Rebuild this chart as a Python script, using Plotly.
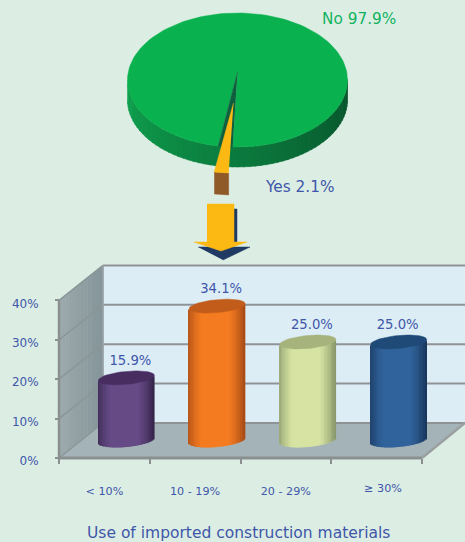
import math
import plotly.graph_objects as go

# ---- data ----
CATEGORIES = ["< 10%", "10 - 19%", "20 - 29%", "≥ 30%"]
BAR_VALUES = [15.9, 34.1, 25.0, 25.0]
PIE_LABELS = ["No", "Yes"]
PIE_VALUES = [97.9, 2.1]
Y_TICKS = [0, 10, 20, 30, 40]
X_TICKS = [0, 1, 2, 3, 4]
AXIS_TITLE = "Use of imported construction materials"

# ---- styles ----
BAR_CENTER = ["#654a86", "#f57b20", "#d6e3a2", "#30639b"]
BAR_EDGE = ["#3a2850", "#ae4f18", "#8f9f70", "#1b3b63"]
BAR_CAP = ["#472d60", "#c25c1b", "#a6b37d", "#1f4a77"]
LABEL_SHIFT_PX = [0, 0, 0, -5]
BLUE = "#3f56a9"
BG = "#dceee4"
FONT = "DejaVu Sans"
W, H = 465, 542
PX_X, PX_Y = 90.75, 3.94   # pixels per axis unit
X0, Y0 = 59, 458           # pixel of the axis origin


def X(px):
    return (px - X0) / PX_X


def Y(py):
    return (Y0 - py) / PX_Y


DEPTH_X, DEPTH_Y = X(103), Y(423)   # chart box depth in axis units


def mix(c1, c2, t):
    a = [int(c1[i:i + 2], 16) for i in (1, 3, 5)]
    b = [int(c2[i:i + 2], 16) for i in (1, 3, 5)]
    return "rgb(%d,%d,%d)" % tuple(round(p + (q - p) * t) for p, q in zip(a, b))


shapes = []


def quad(points, color):
    path = "M" + "L".join(f"{x},{y}" for x, y in points) + "Z"
    shapes.append(dict(type="path", path=path, xref="x", yref="y", layer="below",
                       fillcolor=color, line=dict(width=0)))


def seg(x0, y0, x1, y1, color="#8b8f90", width=2):
    shapes.append(dict(type="line", x0=x0, y0=y0, x1=x1, y1=y1, xref="x", yref="y",
                       layer="below", line=dict(color=color, width=width)))


TOP = Y_TICKS[-1]
RIGHT = X(W)
FRONT_RIGHT = X_TICKS[-1]

# back wall
quad([(DEPTH_X, DEPTH_Y), (DEPTH_X, TOP + DEPTH_Y), (RIGHT, TOP + DEPTH_Y), (RIGHT, DEPTH_Y)], "#dcedf6")
# floor
quad([(0, 0), (DEPTH_X, DEPTH_Y), (RIGHT, DEPTH_Y), (RIGHT, DEPTH_Y), (FRONT_RIGHT, 0)], "#a4b3b7")
# left wall, in strips
N_WALL = 14
for i in range(N_WALL):
    a, b = i / N_WALL, (i + 1.15) / N_WALL
    quad([(a * DEPTH_X, a * DEPTH_Y), (a * DEPTH_X, TOP + a * DEPTH_Y),
          (b * DEPTH_X, TOP + b * DEPTH_Y), (b * DEPTH_X, b * DEPTH_Y)],
         mix("#9ba9ab", "#86959a", i / (N_WALL - 1)))
# grid
for t in Y_TICKS:
    seg(0, t, DEPTH_X, t + DEPTH_Y, "#8a9698", 1.5)
    seg(DEPTH_X, t + DEPTH_Y, RIGHT, t + DEPTH_Y, "#8f9395", 2)
seg(DEPTH_X, DEPTH_Y, DEPTH_X, TOP + DEPTH_Y, "#9aa5a8", 1.5)
seg(0, 0, 0, TOP, "#8b8f90", 2.5)
seg(0, 0, FRONT_RIGHT, 0, "#8b8f90", 3)
seg(FRONT_RIGHT, 0, RIGHT, DEPTH_Y, "#9a9fa0", 2.5)

fig = go.Figure()


def poly(xs, ys, color):
    fig.add_trace(go.Scatter(x=[X(v) for v in xs], y=[Y(v) for v in ys], mode="lines",
                             fill="toself", fillcolor=color, line=dict(width=0.5, color=color),
                             hoverinfo="skip", showlegend=False))


# ---- cylinders ----
HALF = 28 / PX_X
E_V = 6.5 / PX_Y
TILT = 2.5 / PX_Y
N_STRIP = 40
for i, v in enumerate(BAR_VALUES):
    cx = i + 0.5 + DEPTH_X / 2
    base = DEPTH_Y / 2
    sx, sb, sh, sc = [], [], [], []
    for k in range(N_STRIP):
        u = -1 + (2 * k + 1) / N_STRIP
        curve = math.sqrt(1 - u * u)
        bottom = base - E_V * curve + TILT * u
        top = base + v - E_V * 0.6 * curve + TILT * u
        sx.append(cx + HALF * u)
        sb.append(bottom)
        sh.append(top - bottom)
        sc.append(mix(BAR_EDGE[i], BAR_CENTER[i], min(1, (1 - abs(u + 0.05) ** 2.2) * 1.25)))
    fig.add_trace(go.Bar(x=sx, y=sh, base=sb, width=2.6 * HALF / N_STRIP,
                         marker=dict(color=sc, line=dict(width=0)),
                         hoverinfo="skip", showlegend=False))
    ex, ey = [], []
    for k in range(61):
        t = 2 * math.pi * k / 60
        ex.append(cx + HALF * math.cos(t))
        ey.append(base + v + E_V * math.sin(t) + TILT * math.cos(t))
    fig.add_trace(go.Scatter(x=ex, y=ey, mode="lines", fill="toself", fillcolor=BAR_CAP[i],
                             line=dict(width=0.5, color=BAR_CAP[i]), hoverinfo="skip",
                             showlegend=False))

# value labels
fig.add_trace(go.Scatter(
    x=[i + 0.5 + DEPTH_X / 2 + (4 + LABEL_SHIFT_PX[i]) / PX_X for i in range(len(BAR_VALUES))],
    y=[v + DEPTH_Y / 2 + 4.2 for v in BAR_VALUES],
    text=[f"{v:.1f}%" for v in BAR_VALUES], mode="text",
    textfont=dict(family=FONT, size=13.2, color=BLUE), textposition="middle center",
    hoverinfo="skip", showlegend=False, cliponaxis=False))

# category labels
fig.add_trace(go.Scatter(
    x=[i + 0.5 + (0.07 if i == 3 else 0) for i in range(len(CATEGORIES))],
    y=[Y(489) if i == 3 else Y(492) for i in range(len(CATEGORIES))],
    text=CATEGORIES, mode="text",
    textfont=dict(family=FONT, size=11.2, color=BLUE), textposition="middle center",
    hoverinfo="skip", showlegend=False))

# ---- pie (tilted, drawn from its values) ----
CX, CY, RX, RY, PIE_DEPTH = 237.5, 80, 110, 67, 20
PHI0 = -0.11
half_gap = math.pi * PIE_VALUES[1] / 100


def rim(phi, dx=0, dy=0):
    return CX + RX * math.sin(phi) + dx, CY + RY * math.cos(phi) + dy


# side wall of the large slice
N_SIDE = 60
for k in range(N_SIDE):
    p0 = -math.pi / 2 + math.pi * k / N_SIDE
    p1 = -math.pi / 2 + math.pi * (k + 1.2) / N_SIDE
    a, b = rim(p0), rim(p1)
    poly([a[0], b[0], b[0], a[0]], [a[1], b[1], b[1] + PIE_DEPTH, a[1] + PIE_DEPTH],
         mix("#0fa24f", "#07522b", k / (N_SIDE - 1)))

# top face of the large slice
steps = 160
sweep = 2 * math.pi - 2 * half_gap
pts = [rim(PHI0 + half_gap + sweep * k / steps) for k in range(steps + 1)]
poly([CX] + [p[0] for p in pts], [CY - 8] + [p[1] for p in pts], "#0ab14f")
# dark gap
g0, g1 = rim(PHI0 - half_gap), rim(PHI0 + half_gap)
poly([CX, g0[0], g1[0]], [CY - 8, g0[1], g1[1]], "#0d5f3e")

# exploded small slice
OX, OY = -4, 26
w_pts = [rim(PHI0 - half_gap + 2 * half_gap * k / 8, OX, OY) for k in range(9)]
poly([w_pts[0][0], w_pts[-1][0], w_pts[-1][0], w_pts[0][0]],
     [w_pts[0][1], w_pts[-1][1], w_pts[-1][1] + 22, w_pts[0][1] + 22], "#8f5a28")
poly([CX + OX] + [p[0] for p in w_pts], [CY + OY - 3] + [p[1] for p in w_pts], "#fdb913")

# pointer arrow
poly([234, 237, 237, 234], [209, 209, 243, 243], "#1f3a63")
poly([198, 250, 223], [247, 247, 260], "#1f3a63")
poly([207, 234, 234, 247, 221, 194, 207], [204, 204, 242, 242, 251, 242, 242], "#fdb913")

annotations = [
    dict(x=X(359), y=Y(19), xref="x", yref="y", showarrow=False,
         text=f"{PIE_LABELS[0]} {PIE_VALUES[0]}%",
         font=dict(family=FONT, size=15.3, color="#12b35f")),
    dict(x=X(299), y=Y(187), xref="x", yref="y", showarrow=False,
         text=f"{PIE_LABELS[1]} {PIE_VALUES[1]}%",
         font=dict(family=FONT, size=15.3, color=BLUE)),
    dict(x=X(238.5), y=Y(533), xref="x", yref="y", showarrow=False, text=AXIS_TITLE,
         font=dict(family=FONT, size=15.5, color=BLUE)),
]

fig.update_layout(
    width=W, height=H, margin=dict(l=0, r=0, t=0, b=0),
    paper_bgcolor=BG, plot_bgcolor=BG, barmode="overlay", showlegend=False,
    shapes=shapes, annotations=annotations,
    xaxis=dict(range=[X(0), X(W)], domain=[0, 1], anchor="free", position=(H - Y0) / H,
               tickmode="array", tickvals=X_TICKS, showticklabels=False, ticks="outside",
               ticklen=5, tickwidth=2, tickcolor="#8b8f90", showgrid=False, zeroline=False,
               showline=False),
    yaxis=dict(range=[Y(H), Y(0)], domain=[0, 1], anchor="free", position=X0 / W,
               tickmode="array", tickvals=Y_TICKS, ticktext=[f"{t}%" for t in Y_TICKS],
               ticks="outside", ticklen=4, tickwidth=2, tickcolor="#8b8f90", showgrid=False,
               zeroline=False, showline=False, ticklabelstandoff=14, ticklabelshift=3,
               tickfont=dict(family=FONT, size=12, color=BLUE)),
)

fig.write_html("out.html", config=dict(displayModeBar=False),
               post_script="document.body.style.margin='0';"
                           "document.body.style.overflow='hidden';"
                           f"document.body.style.background='{BG}';")
